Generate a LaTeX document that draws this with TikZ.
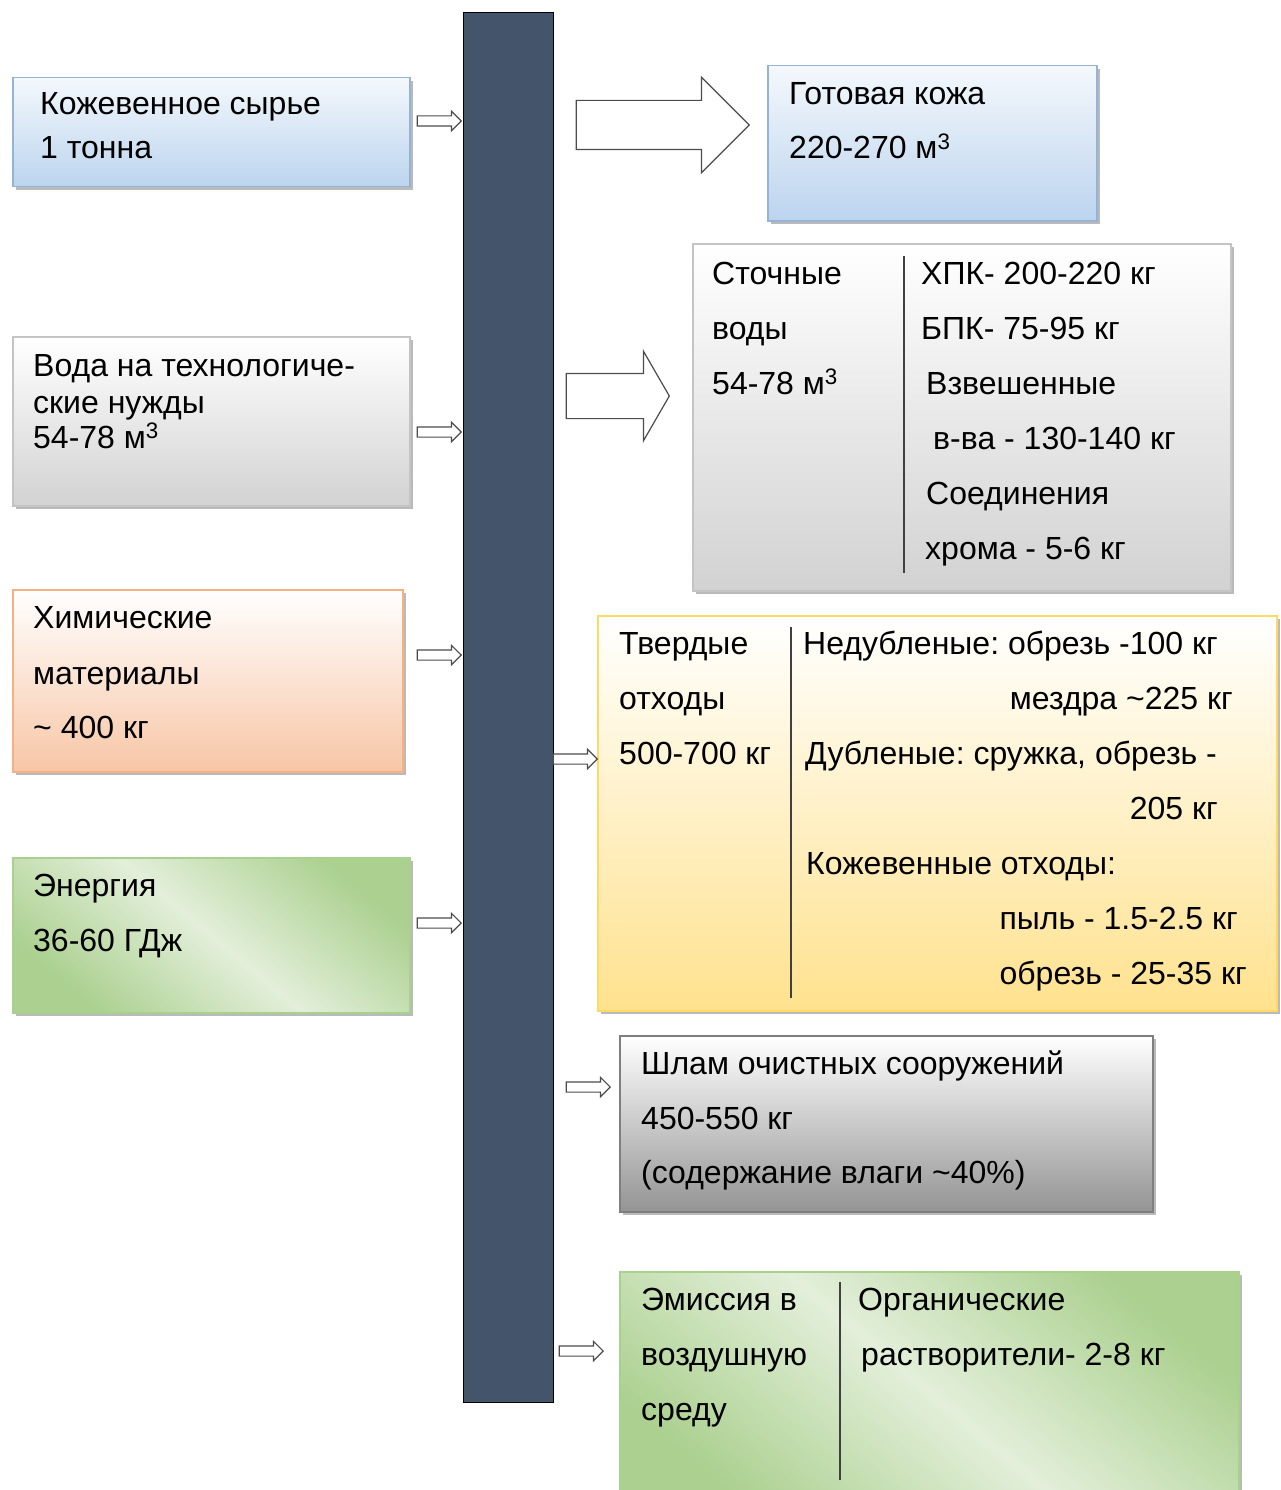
\documentclass[tikz,border=0pt]{standalone}
\usepackage{fontspec}
\setmainfont{Liberation Sans}
\usetikzlibrary{shapes.arrows,shadows}
\frenchspacing

\definecolor{barfill}{HTML}{44546A}
\definecolor{blueedge}{HTML}{95B3D7}
\definecolor{bluetop}{HTML}{F4F8FC}
\definecolor{bluebot}{HTML}{BCD4EE}
\definecolor{grayedge}{HTML}{C4C4C4}
\definecolor{graybot}{HTML}{D2D2D2}
\definecolor{orangeedge}{HTML}{F4B183}
\definecolor{orangebot}{HTML}{F7C6A6}
\definecolor{greenedge}{HTML}{A9D18E}
\definecolor{greendark}{HTML}{ABD08F}
\definecolor{greenlight}{HTML}{E3EFDA}
\definecolor{yellowedge}{HTML}{FFD966}
\definecolor{yellowbot}{HTML}{FFE28E}
\definecolor{sludgeedge}{HTML}{7F7F7F}
\definecolor{sludgebot}{HTML}{949494}

\tikzset{
  box/.style={anchor=north west, inner sep=0pt, line width=1.5pt,
    drop shadow={shadow xshift=3pt, shadow yshift=-3pt, fill=black!45, opacity=.6}},
  bluebox/.style={box, draw=blueedge, top color=bluetop, bottom color=bluebot},
  graybox/.style={box, draw=grayedge, top color=white, bottom color=graybot},
  orangebox/.style={box, draw=orangeedge, top color=white, bottom color=orangebot},
  greenbox/.style={box, draw=greenedge, top color=greendark, bottom color=greendark,
    middle color=greenlight, shading angle=-40},
  yellowbox/.style={box, draw=yellowedge, top color=white, bottom color=yellowbot},
  sludgebox/.style={box, draw=sludgeedge, top color=white, bottom color=sludgebot},
  txt/.style={anchor=base west, inner sep=0pt, font=\fontsize{32}{38}\selectfont},
  rtxt/.style={txt, anchor=base east},
  divider/.style={draw=black!75, line width=1.5pt},
  flowarrow/.style={single arrow, draw=black!70, fill=white, line width=1.2pt,
    anchor=tip, inner xsep=0pt, text height=0pt, text depth=0pt},
  smallarrow/.style={flowarrow, minimum height=44pt, inner ysep=4.5pt,
    single arrow head extend=4.5pt},
}

\begin{document}
\begin{tikzpicture}[x=1pt, y=-1pt]
  \useasboundingbox (0,0) rectangle (1281,1490);

  %%% central bar
  \node[draw=black, fill=barfill, line width=1.2pt, anchor=north west, inner sep=0pt,
        minimum width=90pt, minimum height=1390pt] (bar) at (463,12) {};

  %%% inputs
  \node[bluebox, minimum width=397pt, minimum height=109pt] (raw) at (12,77) {};
  \node[graybox, minimum width=397pt, minimum height=169pt] (water) at (12,336) {};
  \node[orangebox, minimum width=390pt, minimum height=182pt] (chem) at (12,589) {};
  \node[greenbox, minimum width=397pt, minimum height=155pt] (energy) at (12,857) {};

  %%% outputs
  \node[bluebox, minimum width=329pt, minimum height=155pt] (leather) at (767,65) {};
  \node[graybox, minimum width=538pt, minimum height=347pt] (wastewater) at (692,243) {};
  \node[yellowbox, minimum width=679pt, minimum height=395pt] (solid) at (597,615) {};
  \node[sludgebox, minimum width=533pt, minimum height=176pt] (sludge) at (619,1035) {};
  \node[greenbox, minimum width=619pt, minimum height=240pt] (emission) at (619,1271) {};

  \draw[divider] (904,256) -- (904,573);
  \draw[divider] (791,627) -- (791,998);
  \draw[divider] (840,1282) -- (840,1480);

  %%% small arrows
  \foreach \yy [count=\i] in {121,432,655,923}
    \node[smallarrow] (in\i) at (462,\yy) {};
  \node[smallarrow] (out1) at (598,759) {};
  \node[smallarrow] (out2) at (611,1087) {};
  \node[smallarrow] (out3) at (604,1351) {};

  %%% big arrows
  \node[flowarrow, minimum height=173pt, inner ysep=24pt, single arrow head extend=23pt]
    (bigleather) at (750,125) {};
  \node[flowarrow, minimum height=103pt, inner ysep=22pt, single arrow head extend=22pt,
        single arrow tip angle=120] (bigwater) at (670,396) {};

  %%% texts
  \foreach \yy/\t [count=\i] in {115/Кожевенное сырье, 159/1 тонна}
    \node[txt] (rawtxt\i) at (40,\yy) {\t};
  \foreach \yy/\t [count=\i] in {376/Вода на технологиче-, 413/ские нужды,
      448/{54-78 м\textsuperscript{3}}}
    \node[txt] (watertxt\i) at (33,\yy) {\t};
  \foreach \yy/\t [count=\i] in {628/Химические, 684/материалы, 738/\textasciitilde{} 400 кг}
    \node[txt] (chemtxt\i) at (33,\yy) {\t};
  \foreach \yy/\t [count=\i] in {896/Энергия, 951/36-60 ГДж}
    \node[txt] (energytxt\i) at (33,\yy) {\t};

  \foreach \yy/\t [count=\i] in {105/Готовая кожа, 159/{220-270 м\textsuperscript{3}}}
    \node[txt] (leathertxt\i) at (789,\yy) {\t};

  \foreach \yy/\t [count=\i] in {284/Сточные, 339/воды, 394/{54-78 м\textsuperscript{3}}}
    \node[txt] (wwleft\i) at (712,\yy) {\t};
  \foreach \xx/\yy/\t [count=\i] in {921/284/ХПК- 200-220 кг, 921/339/БПК- 75-95 кг,
      926/394/Взвешенные, 933/449/в-ва - 130-140 кг, 926/504/Соединения,
      925/559/хрома - 5-6 кг}
    \node[txt] (wwright\i) at (\xx,\yy) {\t};

  \foreach \yy/\t [count=\i] in {654/Твердые, 709/отходы, 764/500-700 кг}
    \node[txt] (solidleft\i) at (619,\yy) {\t};
  \node[txt] (solidright1) at (803,654) {Недубленые: обрезь -100 кг};
  \node[rtxt] (solidright2) at (1233,709) {мездра \textasciitilde225 кг};
  \node[txt] (solidright3) at (805,764) {Дубленые: сружка, обрезь -};
  \node[rtxt] (solidright4) at (1218,819) {205 кг};
  \node[txt] (solidright5) at (806,874) {Кожевенные отходы:};
  \node[rtxt] (solidright6) at (1238,929) {пыль - 1.5-2.5 кг};
  \node[rtxt] (solidright7) at (1247,984) {обрезь - 25-35 кг};

  \foreach \yy/\t [count=\i] in {1074/Шлам очистных сооружений, 1129/450-550 кг,
      1183/(содержание влаги \textasciitilde40\%)}
    \node[txt] (sludgetxt\i) at (641,\yy) {\t};

  \foreach \yy/\t [count=\i] in {1310/Эмиссия в, 1365/воздушную, 1420/среду}
    \node[txt] (emleft\i) at (641,\yy) {\t};
  \node[txt] (emright1) at (858,1310) {Органические};
  \node[txt] (emright2) at (861,1365) {растворители- 2-8 кг};
\end{tikzpicture}
\end{document}
